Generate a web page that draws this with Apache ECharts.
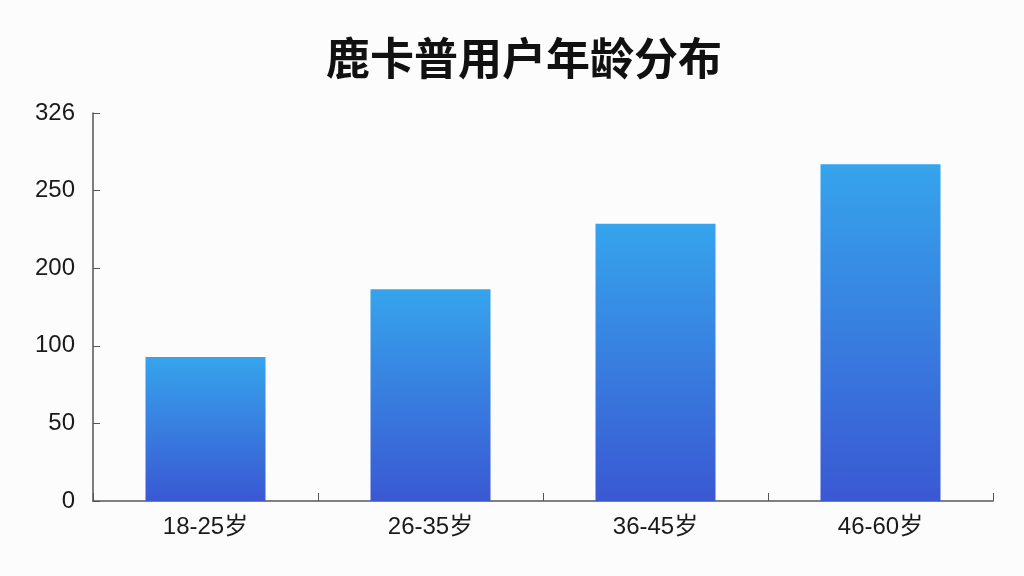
<!DOCTYPE html>
<html>
<head>
<meta charset="utf-8">
<script src="https://cdn.jsdelivr.net/npm/echarts@6/dist/echarts.min.js"></script>
<style>
  html, body { margin: 0; padding: 0; background: #fcfcfc; }
  #chart { width: 1024px; height: 576px; }
</style>
</head>
<body>
<div id="chart"></div>
<script>
// age groups and user counts
var categories = ['18-25岁', '26-35岁', '36-45岁', '46-60岁'];
var values = [121, 178, 233, 283];
// the y-axis labels as printed on the original, one per gridline
var tickLabels = ['0', '50', '100', '200', '250', '326'];
var axisMax = 326;

var chart = echarts.init(document.getElementById('chart'));

var labelFont = '"Liberation Sans", Arial, "Noto Sans CJK SC", sans-serif';

var option = {
    backgroundColor: '#fcfcfc',
    animation: false,
    textStyle: {
        fontFamily: labelFont
    },
    title: {
        text: '鹿卡普用户年龄分布',
        left: 321,
        top: 31,
        textStyle: {
            fontSize: 44,
            fontWeight: 'bold',
            color: '#111111',
            fontFamily: '"Noto Sans CJK SC", sans-serif'
        }
    },
    grid: {
        left: 93,
        right: 31,
        top: 113,
        bottom: 75,
        containLabel: false
    },
    xAxis: {
        type: 'category',
        data: categories,
        axisLine: { lineStyle: { color: '#555555', width: 1.5 } },
        axisTick: { show: true, inside: true, length: 8, lineStyle: { color: '#555555' } },
        axisLabel: { color: '#1a1a1a', fontSize: 24, margin: 14, fontFamily: labelFont }
    },
    yAxis: {
        type: 'value',
        min: 0,
        max: axisMax,
        interval: axisMax / 5,
        axisLine: { show: true, lineStyle: { color: '#555555', width: 1.5 } },
        axisTick: { show: true, inside: true, length: 7, lineStyle: { color: '#555555' } },
        splitLine: { show: false },
        axisLabel: {
            color: '#1a1a1a',
            fontSize: 24,
            margin: 18,
            fontFamily: labelFont,
            formatter: function(value) {
                var idx = Math.round(value / (axisMax / 5));
                return tickLabels[idx];
            }
        }
    },
    series: [{
        type: 'bar',
        data: values,
        barWidth: 120,
        itemStyle: {
            color: new echarts.graphic.LinearGradient(0, 0, 0, 1, [
                { offset: 0, color: '#36a4ec' },
                { offset: 1, color: '#3a58d3' }
            ])
        }
    }]
};

chart.setOption(option);
</script>
</body>
</html>
